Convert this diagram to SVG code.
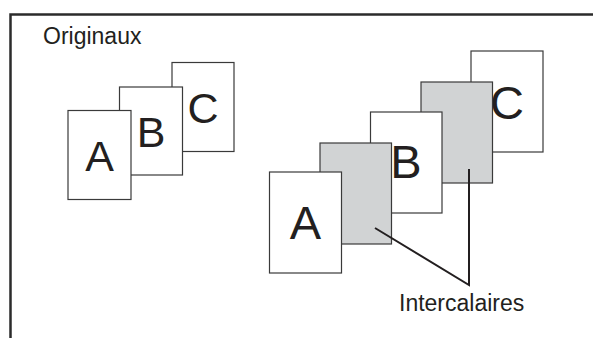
<svg xmlns="http://www.w3.org/2000/svg" width="593" height="338" viewBox="0 0 593 338">
  <style>
    .page { fill: #ffffff; stroke: #3a3a3a; stroke-width: 1.2; }
    .sep { fill: #d1d3d4; stroke: #3a3a3a; stroke-width: 1.2; }
    .lbl { font-family: "Liberation Sans", Arial, sans-serif; fill: #231f20; }
    .big1 { font-size: 43px; text-anchor: middle; }
    .big2 { font-size: 47px; text-anchor: middle; }
    .cap { font-size: 23px; }
    .lead { fill: none; stroke: #231f20; stroke-width: 2; }
  </style>
  <rect width="593" height="338" fill="#ffffff"/>
  <g id="frame">
    <path d="M10.5,338 V14.5 H593" fill="none" stroke="#2b2b2b" stroke-width="2.5"/>
  </g>
  <g id="title">
    <text class="lbl cap" x="43" y="43.5">Originaux</text>
  </g>
  <g id="originals">
    <g id="orig-C">
      <rect class="page" x="172" y="62.5" width="62" height="89"/>
      <text class="lbl big1" x="203" y="122.5">C</text>
    </g>
    <g id="orig-B">
      <rect class="page" x="119.5" y="87" width="63" height="88"/>
      <text class="lbl big1" x="151" y="147">B</text>
    </g>
    <g id="orig-A">
      <rect class="page" x="68" y="110.5" width="63" height="89"/>
      <text class="lbl big1" x="99.5" y="171">A</text>
    </g>
  </g>
  <g id="interleaved">
    <g id="page-C">
      <rect class="page" x="471" y="51" width="72" height="101"/>
      <text class="lbl big2" x="507" y="118.5">C</text>
    </g>
    <g id="sep-2">
      <rect class="sep" x="421" y="82" width="71.5" height="101"/>
    </g>
    <g id="page-B">
      <rect class="page" x="370.5" y="112" width="71.5" height="101"/>
      <text class="lbl big2" x="406" y="178">B</text>
    </g>
    <g id="sep-1">
      <rect class="sep" x="320" y="143" width="71.5" height="101"/>
    </g>
    <g id="page-A">
      <rect class="page" x="269.5" y="172" width="72" height="101"/>
      <text class="lbl big2" x="305.5" y="239">A</text>
    </g>
  </g>
  <g id="connectors">
    <polyline class="lead" points="375,228 469,285 469,169"/>
  </g>
  <g id="label-intercalaires">
    <text class="lbl cap" x="399" y="311">Intercalaires</text>
  </g>
</svg>
